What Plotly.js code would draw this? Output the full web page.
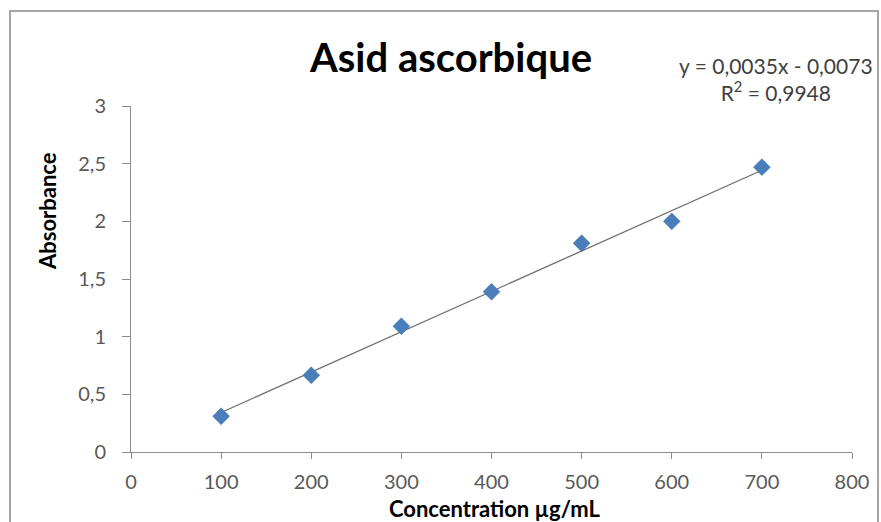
<!DOCTYPE html>
<html>
<head>
<meta charset="utf-8">
<script src="https://cdn.plot.ly/plotly-3.0.1.min.js"></script>
<style>
html,body{margin:0;padding:0;background:#fff;}
#wrap{position:relative;width:881px;height:522px;}
#chart{position:absolute;left:0;top:0;width:881px;height:522px;}
#frame{position:absolute;left:9px;top:10px;width:870px;height:520px;border:2px solid #a6a6a6;pointer-events:none;box-sizing:border-box;}
</style>
</head>
<body>
<div id="wrap"><div id="chart"></div><div id="frame"></div></div>
<script>
var concentration = [100, 200, 300, 400, 500, 600, 700];
var absorbance = [0.31, 0.665, 1.09, 1.39, 1.81, 2.00, 2.47];
var slope = 0.0035;
var intercept = -0.0073;
var trendX = [concentration[0], concentration[concentration.length - 1]];
var trendY = trendX.map(function (x) { return slope * x + intercept; });
var xTicks = [0, 100, 200, 300, 400, 500, 600, 700, 800];
var yTicks = [0, 0.5, 1, 1.5, 2, 2.5, 3];

var font = "Lato, 'Open Sans', sans-serif";
var L = 131, T = 106, W = 721, H = 346;
function px(x) { return (x - L) / W; }
function py(y) { return (T + H - y) / H; }

var traces = [
  {
    x: trendX, y: trendY, mode: 'lines', type: 'scatter',
    line: {color: '#6e6e6e', width: 1.3}, hoverinfo: 'skip', showlegend: false
  },
  {
    x: concentration, y: absorbance, mode: 'markers', type: 'scatter',
    marker: {symbol: 'diamond', size: 13, color: '#4a7ebb', line: {color: '#3f6ea8', width: 0.5}},
    showlegend: false
  }
];

var layout = {
  width: 881, height: 522,
  margin: {l: L, r: 881 - L - W, t: T, b: 522 - T - H},
  paper_bgcolor: '#ffffff', plot_bgcolor: '#ffffff',
  separators: ', ',
  font: {family: font, color: '#595959'},
  title: {
    text: '<b>Asid ascorbique</b>',
    font: {family: font, size: 40, color: '#000000'},
    x: 451 / 881, xanchor: 'center', y: 1 - 58 / 522, yanchor: 'middle'
  },
  xaxis: {
    range: [0, 800], tickvals: xTicks, showgrid: false, zeroline: false,
    showline: true, linecolor: '#8c8c8c', linewidth: 1,
    ticks: 'outside', ticklen: 6, tickcolor: '#8c8c8c', ticklabelstandoff: 6,
    tickfont: {size: 20, color: '#595959', family: font}
  },
  yaxis: {
    range: [0, 3], tickvals: yTicks, showgrid: false, zeroline: false,
    showline: true, linecolor: '#8c8c8c', linewidth: 1,
    ticks: 'outside', ticklen: 8, tickcolor: '#8c8c8c', ticklabelstandoff: 12,
    tickfont: {size: 20, color: '#595959', family: font}
  },
  annotations: [
    {
      xref: 'paper', yref: 'paper',
      x: px(776), y: py(79), xanchor: 'center', yanchor: 'middle',
      text: 'y = 0,0035x - 0,0073<br>R<sup>2</sup> = 0,9948',
      showarrow: false, align: 'center',
      font: {size: 21, color: '#404040', family: font}
    },
    {
      xref: 'paper', yref: 'paper',
      x: px(495), y: py(508), xanchor: 'center', yanchor: 'middle',
      text: '<b>Concentration µg/mL</b>', showarrow: false,
      font: {size: 22, color: '#000000', family: font}
    },
    {
      xref: 'paper', yref: 'paper',
      x: px(47), y: py(211), xanchor: 'center', yanchor: 'middle',
      text: '<b>Absorbance</b>', showarrow: false, textangle: -90,
      font: {size: 22, color: '#000000', family: font}
    }
  ]
};

Plotly.newPlot('chart', traces, layout, {staticPlot: true});
</script>
</body>
</html>
